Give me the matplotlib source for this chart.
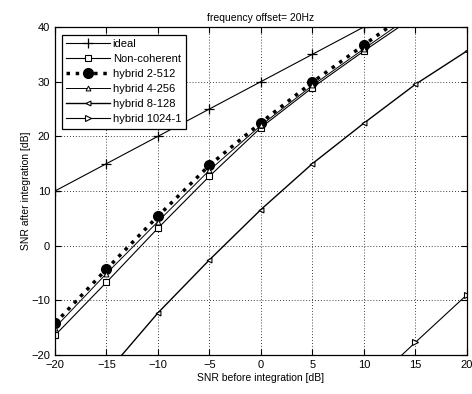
import matplotlib
matplotlib.use("Agg")
import matplotlib.pyplot as plt
import numpy as np

plt.rcParams['font.family'] = ['Liberation Sans', 'DejaVu Sans']

snr_in = [-20, -15, -10, -5, 0, 5, 10, 15, 20]
ideal = [10, 15, 20, 25, 30, 35, 40, 45, 50]
noncoh = [-16.4, -6.7, 3.2, 12.7, 21.6, 28.9, 35.6, 42.0, np.nan]
hyb_2_512 = [-14.2, -4.3, 5.4, 14.7, 22.5, 29.9, 36.7, 43.5, np.nan]
hyb_4_256 = [-15.0, -5.1, 4.4, 13.8, 22.0, 29.3, 36.0, 42.6, np.nan]
hyb_8_128 = [np.nan, -23.3, -12.3, -2.6, 6.6, 15.0, 22.4, 29.5, 35.6]
hyb_1024_1 = [np.nan, np.nan, np.nan, np.nan, np.nan, np.nan, -26.5, -17.7, -9.0]

x_ticks = [-20, -15, -10, -5, 0, 5, 10, 15, 20]
y_ticks = [-20, -10, 0, 10, 20, 30, 40]

fig = plt.figure(figsize=(4.72, 3.94), dpi=100)
ax = fig.add_axes([0.1165, 0.099, 0.8725, 0.8325])

ax.plot(snr_in, ideal, '-', color='k', lw=0.8, marker='+', ms=7, mew=0.9, label='ideal')
ax.plot(snr_in, noncoh, '-', color='k', lw=0.8, marker='s', ms=5, mfc='white', mew=0.8, label='Non-coherent')
ax.plot(snr_in, hyb_2_512, ':', color='k', lw=2.5, marker='o', ms=7, mfc='k', label='hybrid 2-512')
ax.plot(snr_in, hyb_4_256, '-', color='k', lw=0.7, marker='^', ms=3.5, mfc='white', mew=0.7, label='hybrid 4-256')
ax.plot(snr_in, hyb_8_128, '-', color='k', lw=1.0, marker='<', ms=3.5, mfc='white', mew=0.8, label='hybrid 8-128')
ax.plot(snr_in, hyb_1024_1, '-', color='k', lw=0.8, marker='>', ms=4, mfc='white', mew=0.8, label='hybrid 1024-1')

ax.set_xlim(-20, 20)
ax.set_ylim(-20, 40)
ax.set_xticks(x_ticks)
ax.set_yticks(y_ticks)
ax.tick_params(direction='in', top=True, right=True, labelsize=8, length=4, width=0.8)
ax.grid(True, linestyle=(0, (1, 2.5)), color='k', lw=0.6)
for s in ax.spines.values():
    s.set_linewidth(0.9)

ax.set_title('frequency offset= 20Hz', fontsize=7.5, pad=4)
ax.set_xlabel('SNR before integration [dB]', fontsize=7.5, labelpad=2)
ax.set_ylabel('SNR after integration [dB]', fontsize=7.5, labelpad=0)

leg = ax.legend(loc='upper left', bbox_to_anchor=(0.016, 0.976), fontsize=8,
                handlelength=4.0, labelspacing=0.45, borderaxespad=0, fancybox=False,
                framealpha=1, edgecolor='k', borderpad=0.4, handletextpad=0.2)
leg.get_frame().set_linewidth(0.9)

fig.savefig('out.png', dpi=100, facecolor='white')
